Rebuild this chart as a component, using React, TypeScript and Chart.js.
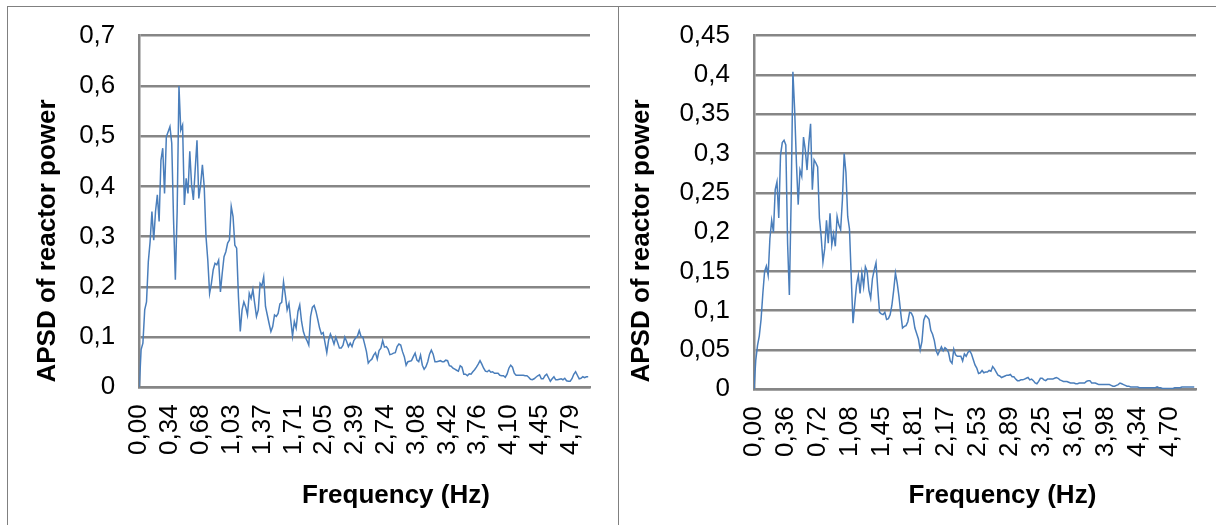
import React, { useEffect, useRef } from "react";
import { Chart, registerables } from "chart.js";

Chart.register(...registerables);

const FREQ_STEP_HZ = 0.02;

// Left panel: APSD of reactor power, sampled every 0.02 Hz from 0 Hz
const LEFT_APSD = [
  0, 0.075, 0.088, 0.154, 0.17, 0.25, 0.29, 0.35, 0.293, 0.35,
  0.383, 0.33, 0.452, 0.476, 0.386, 0.499, 0.509, 0.519, 0.486, 0.333,
  0.214, 0.35, 0.6, 0.512, 0.522, 0.363, 0.416, 0.386, 0.47, 0.403,
  0.373, 0.433, 0.492, 0.376, 0.403, 0.443, 0.4, 0.3, 0.253, 0.187,
  0.207, 0.234, 0.247, 0.244, 0.253, 0.19, 0.227, 0.26, 0.27, 0.287,
  0.293, 0.36, 0.34, 0.283, 0.277, 0.18, 0.111, 0.154, 0.17, 0.16,
  0.144, 0.187, 0.177, 0.195, 0.167, 0.141, 0.154, 0.207, 0.202, 0.22,
  0.161, 0.144, 0.127, 0.111, 0.121, 0.144, 0.141, 0.147, 0.166, 0.169,
  0.21, 0.184, 0.154, 0.167, 0.134, 0.102, 0.131, 0.118, 0.151, 0.164,
  0.131, 0.111, 0.1, 0.093, 0.084, 0.141, 0.159, 0.163, 0.151, 0.135,
  0.118, 0.106, 0.109, 0.089, 0.069, 0.094, 0.106, 0.097, 0.086, 0.1,
  0.089, 0.078, 0.078, 0.084, 0.1, 0.091, 0.081, 0.088, 0.081, 0.093,
  0.098, 0.102, 0.113, 0.101, 0.1, 0.086, 0.071, 0.048, 0.053, 0.056,
  0.064, 0.069, 0.056, 0.073, 0.078, 0.093, 0.08, 0.081, 0.076, 0.065,
  0.066, 0.068, 0.069, 0.081, 0.086, 0.084, 0.071, 0.061, 0.044, 0.051,
  0.052, 0.053, 0.061, 0.068, 0.054, 0.051, 0.064, 0.044, 0.036, 0.041,
  0.051, 0.066, 0.074, 0.066, 0.051, 0.051, 0.052, 0.053, 0.051, 0.051,
  0.054, 0.053, 0.043, 0.042, 0.038, 0.036, 0.034, 0.032, 0.043, 0.04,
  0.026, 0.026, 0.023, 0.027, 0.026, 0.031, 0.035, 0.04, 0.046, 0.053,
  0.046, 0.038, 0.032, 0.031, 0.034, 0.03, 0.031, 0.028, 0.028, 0.028,
  0.024, 0.023, 0.023, 0.02, 0.026, 0.038, 0.044, 0.04, 0.028, 0.024,
  0.024, 0.024, 0.024, 0.024, 0.023, 0.023, 0.02, 0.016, 0.015, 0.017,
  0.02, 0.023, 0.025, 0.017, 0.017, 0.023, 0.026, 0.019, 0.012, 0.017,
  0.021, 0.015, 0.015, 0.016, 0.017, 0.015, 0.018, 0.013, 0.012, 0.012,
  0.017, 0.026, 0.031, 0.024, 0.017, 0.018, 0.021, 0.019, 0.021, 0.021,
];

// Right panel: APSD of reactor power, sampled every 0.02 Hz from 0 Hz
const RIGHT_APSD = [
  0, 0.037, 0.056, 0.068, 0.089, 0.122, 0.15, 0.157, 0.145, 0.192,
  0.215, 0.2, 0.254, 0.264, 0.218, 0.298, 0.314, 0.317, 0.311, 0.186,
  0.12, 0.24, 0.404, 0.355, 0.288, 0.235, 0.279, 0.271, 0.321, 0.305,
  0.279, 0.313, 0.338, 0.254, 0.292, 0.288, 0.283, 0.218, 0.194, 0.162,
  0.179, 0.215, 0.186, 0.224, 0.184, 0.198, 0.182, 0.22, 0.209, 0.203,
  0.241, 0.3, 0.276, 0.22, 0.204, 0.143, 0.084, 0.109, 0.133, 0.145,
  0.122, 0.148, 0.131, 0.156, 0.15, 0.126, 0.116, 0.141, 0.152, 0.161,
  0.128, 0.098, 0.096, 0.095, 0.098, 0.089, 0.09, 0.095, 0.107, 0.126,
  0.148, 0.135, 0.118, 0.097, 0.078, 0.08, 0.081, 0.086, 0.098, 0.097,
  0.092, 0.078, 0.071, 0.064, 0.05, 0.061, 0.088, 0.094, 0.092, 0.089,
  0.075, 0.07, 0.062, 0.049, 0.044, 0.049, 0.054, 0.049, 0.053, 0.051,
  0.047, 0.036, 0.033, 0.051, 0.044, 0.042, 0.042, 0.042, 0.036, 0.045,
  0.042, 0.047, 0.049, 0.045, 0.038, 0.031, 0.027, 0.02, 0.021, 0.024,
  0.021, 0.022, 0.022, 0.024, 0.023, 0.029, 0.026, 0.022, 0.018, 0.017,
  0.015, 0.016, 0.017, 0.018, 0.018, 0.019, 0.016, 0.016, 0.013, 0.011,
  0.011, 0.012, 0.012, 0.013, 0.014, 0.015, 0.012, 0.013, 0.011, 0.008,
  0.007, 0.01, 0.014, 0.014, 0.012, 0.011, 0.013, 0.013, 0.013, 0.013,
  0.014, 0.015, 0.014, 0.012, 0.011, 0.01, 0.01, 0.01, 0.009, 0.008,
  0.008, 0.008, 0.007, 0.007, 0.008, 0.008, 0.008, 0.008, 0.01, 0.011,
  0.011, 0.008, 0.008, 0.008, 0.007, 0.006, 0.006, 0.006, 0.006, 0.006,
  0.006, 0.006, 0.005, 0.004, 0.004, 0.005, 0.006, 0.008, 0.007, 0.006,
  0.005, 0.004, 0.004, 0.003, 0.003, 0.003, 0.003, 0.003, 0.002, 0.002,
  0.002, 0.002, 0.002, 0.002, 0.002, 0.002, 0.002, 0.002, 0.003, 0.002,
  0.002, 0.001, 0.001, 0.001, 0.001, 0.001, 0.001, 0.001, 0.002, 0.002,
  0.002, 0.002, 0.003, 0.003, 0.003, 0.003, 0.003, 0.003, 0.003, 0.003,
];

// Category tick positions (Hz) and their labels
const LEFT_X_TICKS = [0, 0.342, 0.684, 1.026, 1.368, 1.71, 2.052, 2.394, 2.736, 3.078, 3.42, 3.761, 4.103, 4.445, 4.787];
const LEFT_X_LABELS = ["0,00", "0,34", "0,68", "1,03", "1,37", "1,71", "2,05", "2,39", "2,74", "3,08", "3,42", "3,76", "4,10", "4,45", "4,79"];
const RIGHT_X_TICKS = [0, 0.361, 0.723, 1.084, 1.446, 1.807, 2.169, 2.53, 2.892, 3.253, 3.615, 3.976, 4.338, 4.699];
const RIGHT_X_LABELS = ["0,00", "0,36", "0,72", "1,08", "1,45", "1,81", "2,17", "2,53", "2,89", "3,25", "3,61", "3,98", "4,34", "4,70"];

const LEFT_Y_TICKS = [0, 0.1, 0.2, 0.3, 0.4, 0.5, 0.6, 0.7];
const LEFT_Y_LABELS = ["0", "0,1", "0,2", "0,3", "0,4", "0,5", "0,6", "0,7"];
const RIGHT_Y_TICKS = [0, 0.05, 0.1, 0.15, 0.2, 0.25, 0.3, 0.35, 0.4, 0.45];
const RIGHT_Y_LABELS = ["0", "0,05", "0,1", "0,15", "0,2", "0,25", "0,3", "0,35", "0,4", "0,45"];

const X_TITLE = "Frequency (Hz)";
const Y_TITLE = "APSD of reactor power";

const FONT_FAMILY = '"Liberation Sans", Arial, sans-serif';
const LINE_COLOR = "#4a7ebb";
const GRID_COLOR = "#868686";
const FRAME_COLOR = "#808080";

const titlesPlugin = {
  id: "panelTitles",
  afterDraw(chart: any, _args: any, opts: any) {
    const ctx = chart.ctx;
    ctx.save();
    ctx.fillStyle = "#000";
    ctx.font = `bold ${opts.size}px ${FONT_FAMILY}`;
    ctx.textAlign = "center";
    ctx.textBaseline = "alphabetic";
    ctx.fillText(opts.xTitle, opts.xTitleX, opts.xTitleY);
    ctx.translate(opts.yTitleX, opts.yTitleY);
    ctx.rotate(-Math.PI / 2);
    ctx.fillText(opts.yTitle, 0, 0);
    ctx.restore();
  },
};

type Geo = {
  w: number;
  h: number;
  left: number;
  right: number;
  top: number;
  bottom: number;
  yTitleX: number;
  yTitleY: number;
  xTitleX: number;
  xTitleY: number;
};

function makeConfig(
  values: number[],
  xTicks: number[],
  xLabels: string[],
  yTicks: number[],
  yLabels: string[],
  geo: Geo
): any {
  const points = values.map((v, i) => ({ x: +(i * FREQ_STEP_HZ).toFixed(2), y: v }));
  const tickFont = { family: FONT_FAMILY, size: 26 };
  return {
    type: "line",
    data: {
      datasets: [
        {
          data: points,
          borderColor: LINE_COLOR,
          borderWidth: 1.5,
          pointRadius: 0,
          fill: false,
          tension: 0,
        },
      ],
    },
    plugins: [titlesPlugin],
    options: {
      animation: false,
      responsive: false,
      events: [],
      layout: {
        padding: { left: 0, top: geo.top, right: geo.w - geo.right, bottom: 0 },
      },
      plugins: {
        legend: { display: false },
        tooltip: { enabled: false },
        title: { display: false },
        panelTitles: {
          size: 26,
          xTitle: X_TITLE,
          yTitle: Y_TITLE,
          xTitleX: geo.xTitleX,
          xTitleY: geo.xTitleY,
          yTitleX: geo.yTitleX,
          yTitleY: geo.yTitleY,
        },
      },
      scales: {
        x: {
          type: "linear",
          min: 0,
          max: 5.0,
          afterBuildTicks: (scale: any) => {
            scale.ticks = xTicks.map((v) => ({ value: v }));
          },
          afterFit: (scale: any) => {
            scale.height = geo.h - geo.bottom;
            scale.paddingLeft = 0;
            scale.paddingRight = 0;
            scale.paddingTop = 0;
            scale.paddingBottom = 0;
          },
          ticks: {
            autoSkip: false,
            minRotation: 90,
            maxRotation: 90,
            padding: 17,
            color: "#000",
            font: tickFont,
            callback: (_v: any, i: number) => xLabels[i],
          },
          grid: { display: false, drawTicks: false },
          border: { display: true, color: GRID_COLOR, width: 2.5 },
        },
        y: {
          type: "linear",
          min: yTicks[0],
          max: yTicks[yTicks.length - 1],
          afterBuildTicks: (scale: any) => {
            scale.ticks = yTicks.map((v) => ({ value: v }));
          },
          afterFit: (scale: any) => {
            scale.width = geo.left;
            scale.paddingLeft = 0;
            scale.paddingRight = 0;
            scale.paddingTop = 0;
            scale.paddingBottom = 0;
          },
          ticks: {
            padding: 24,
            color: "#000",
            font: tickFont,
            callback: (_v: any, i: number) => yLabels[i],
          },
          grid: { color: GRID_COLOR, lineWidth: 2.5, drawTicks: false },
          border: { display: true, color: GRID_COLOR, width: 2.5 },
        },
      },
    },
  };
}

function Panel(props: {
  values: number[];
  xTicks: number[];
  xLabels: string[];
  yTicks: number[];
  yLabels: string[];
  geo: Geo;
  style: React.CSSProperties;
}) {
  const ref = useRef<HTMLCanvasElement | null>(null);
  useEffect(() => {
    if (!ref.current) return;
    const chart = new Chart(
      ref.current,
      makeConfig(props.values, props.xTicks, props.xLabels, props.yTicks, props.yLabels, props.geo)
    );
    return () => chart.destroy();
  }, []);
  return (
    <canvas
      ref={ref}
      width={props.geo.w}
      height={props.geo.h}
      style={{ position: "absolute", width: props.geo.w, height: props.geo.h, ...props.style }}
    />
  );
}

const LEFT_GEO: Geo = {
  w: 610,
  h: 518,
  left: 131.3,
  right: 582,
  top: 28.7,
  bottom: 380.3,
  yTitleX: 47,
  yTitleY: 234,
  xTitleX: 388,
  xTitleY: 496,
};

const RIGHT_GEO: Geo = {
  w: 596,
  h: 518,
  left: 134,
  right: 576,
  top: 28.7,
  bottom: 382.3,
  yTitleX: 29,
  yTitleY: 234,
  xTitleX: 382.4,
  xTitleY: 496,
};

export default function App() {
  return (
    <div
      style={{
        position: "absolute",
        left: 0,
        top: 0,
        width: 1216,
        height: 525,
        background: "#fff",
        overflow: "hidden",
      }}
    >
      <div
        style={{
          position: "absolute",
          left: 6.5,
          top: 5.5,
          width: 612,
          height: 540,
          borderTop: `1px solid ${FRAME_COLOR}`,
          borderLeft: `1px solid ${FRAME_COLOR}`,
          borderRight: `1px solid ${FRAME_COLOR}`,
          boxSizing: "border-box",
        }}
      />
      <div
        style={{
          position: "absolute",
          left: 618,
          top: 5.5,
          width: 620,
          height: 540,
          borderTop: `1px solid ${FRAME_COLOR}`,
          boxSizing: "border-box",
        }}
      />
      <Panel
        values={LEFT_APSD}
        xTicks={LEFT_X_TICKS}
        xLabels={LEFT_X_LABELS}
        yTicks={LEFT_Y_TICKS}
        yLabels={LEFT_Y_LABELS}
        geo={LEFT_GEO}
        style={{ left: 8, top: 7 }}
      />
      <Panel
        values={RIGHT_APSD}
        xTicks={RIGHT_X_TICKS}
        xLabels={RIGHT_X_LABELS}
        yTicks={RIGHT_Y_TICKS}
        yLabels={RIGHT_Y_LABELS}
        geo={RIGHT_GEO}
        style={{ left: 620, top: 7 }}
      />
    </div>
  );
}
